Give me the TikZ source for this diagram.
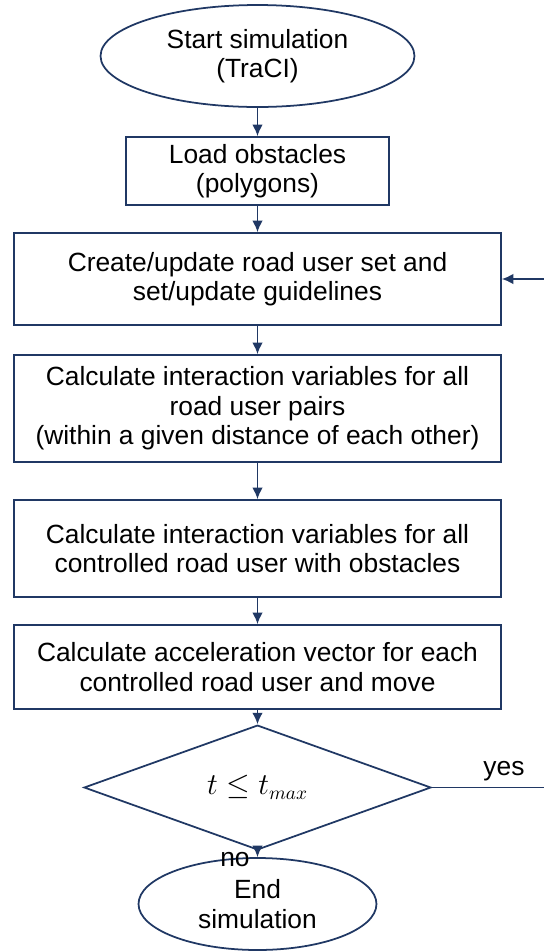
\documentclass[tikz,border=0pt]{standalone}
\usepackage{fontspec}
\setmainfont{Liberation Sans}
\usetikzlibrary{arrows.meta, positioning, shapes.geometric}
\definecolor{NV}{RGB}{32,56,100}
\newcommand{\flowfont}{\fontsize{15}{16.8}\selectfont}

\begin{document}
\begin{tikzpicture}[
  x=0.02cm, y=-0.02cm,
  term/.style={ellipse, draw=NV, line width=1pt, inner sep=0pt,
               align=center, font=\flowfont},
  proc/.style={rectangle, draw=NV, line width=1pt, inner sep=0pt,
               minimum width=9.74cm, align=center, font=\flowfont},
  test/.style={diamond, draw=NV, line width=1pt, inner sep=0pt,
               minimum width=6.94cm, minimum height=1.62cm, font=\fontsize{16}{18}\selectfont},
  flow/.style={-{Latex[length=6.5pt,width=6pt]}, draw=NV, line width=1pt},
  lbl/.style={font=\flowfont, inner sep=1pt}
]
\useasboundingbox (0,0) rectangle (544,951);
\clip (0,0) rectangle (544,951);

\node[term, minimum width=6.28cm, minimum height=2.04cm] (start) at (257.5,56) {Start simulation\\(TraCI)};
\node[proc, minimum width=5.26cm, minimum height=1.36cm] (load) at (257.5,171) {Load obstacles\\(polygons)};
\node[proc, minimum height=1.84cm] (upd) at (257.5,279) {Create/update road user set and\\set/update guidelines};
\node[proc, minimum height=2.14cm] (pairs) at (257.5,408.5) {Calculate interaction variables for all\\road user pairs\\(within a given distance of each other)};
\node[proc, minimum height=1.94cm] (obst) at (257.5,548.5) {Calculate interaction variables for all\\controlled road user with obstacles};
\node[proc, minimum height=1.68cm] (move) at (257.5,667) {Calculate acceleration vector for each\\controlled road user and move};
\node[test] (check) at (257.5,787.5) {$t \le t_{max}$};
\node[term, minimum width=4.76cm, minimum height=1.84cm] (stop) at (257.5,904) {End\\simulation};
\coordinate (back) at (552,787.5);

\draw[flow] (start) -- (load);
\draw[flow] (load) -- (upd);
\draw[flow] (upd) -- (pairs);
\draw[flow] (pairs) -- (obst);
\draw[flow] (obst) -- (move);
\draw[flow] (move) -- (check);
\draw[flow] (check) -- node[lbl, left=3pt, yshift=-3pt] {no} (stop);
\draw[flow] (check.east) -- node[lbl, above=2pt, pos=0.6] {yes} (back) |- (upd.east);
\end{tikzpicture}
\end{document}
